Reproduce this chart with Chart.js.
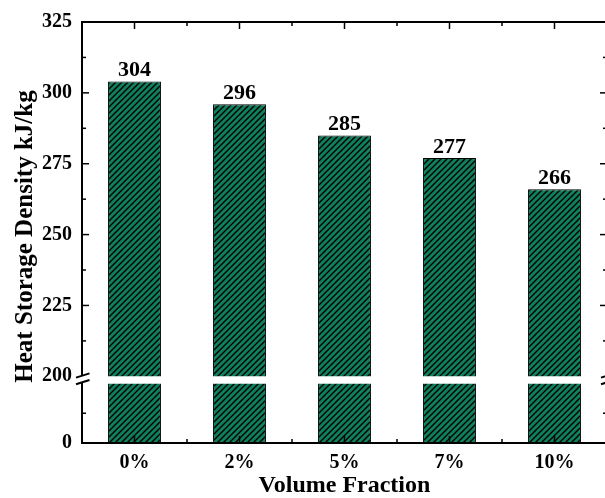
<!DOCTYPE html>
<html>
<head>
<meta charset="utf-8">
<script src="https://cdn.jsdelivr.net/npm/chart.js@4/dist/chart.umd.min.js"></script>
<style>
  html, body { margin: 0; padding: 0; background: #fff; overflow: hidden; }
  canvas { display: block; }
</style>
</head>
<body>
<canvas id="chart" width="607" height="498"></canvas>
<script>
// Heat storage density for each nanoparticle volume fraction
const categories = ['0%', '2%', '5%', '7%', '10%'];
const storageDensity = [304, 296, 285, 277, 266];
const upperTicks = [200, 225, 250, 275, 300, 325];
const lowerTicks = [0];
const lowerMinorTicks = [100];
const axisBreak = 200;

const SERIF = '"Liberation Serif", "Times New Roman", serif';
const GREEN = '#0f7f5c';

// Diagonal hatch fill for the bars
function hatchPattern() {
  const s = 6;
  const c = document.createElement('canvas');
  c.width = s; c.height = s;
  const g = c.getContext('2d');
  g.fillStyle = GREEN;
  g.fillRect(0, 0, s, s);
  g.strokeStyle = '#000';
  g.lineWidth = 1.4;
  g.beginPath();
  g.moveTo(0, s); g.lineTo(s, 0);
  g.moveTo(-1, 1); g.lineTo(1, -1);
  g.moveTo(s - 1, s + 1); g.lineTo(s + 1, s - 1);
  g.stroke();
  return g.createPattern(c, 'repeat');
}

// Frame, inward ticks, axis break marks, value labels and axis titles
const decorations = {
  id: 'decorations',
  afterDatasetsDraw(chart) {
    const ctx = chart.ctx;
    const { left, right, top, bottom } = chart.chartArea;
    const xs = chart.scales.x, yH = chart.scales.yHigh, yL = chart.scales.yLow;
    const gapTop = yH.getPixelForValue(axisBreak);
    const gapBot = yL.getPixelForValue(axisBreak);
    const c1 = gapTop - 0.5, c2 = gapBot - 1;

    ctx.save();
    ctx.strokeStyle = '#000';
    ctx.lineCap = 'butt';

    const seg = (x1, y1, x2, y2) => { ctx.beginPath(); ctx.moveTo(x1, y1); ctx.lineTo(x2, y2); ctx.stroke(); };

    // axis lines
    ctx.lineWidth = 2;
    seg(left - 1, top, right + 1, top);
    seg(left - 1, bottom, right + 1, bottom);
    [left, right].forEach(x0 => {
      seg(x0, top, x0, c1);
      seg(x0, c2, x0, bottom + 1);
      // break marks
      seg(x0 - 6, c1 + 1.8, x0 + 7.5, c1 - 2.4);
      seg(x0 - 6, c2 + 1.8, x0 + 7.5, c2 - 2.4);
    });

    // tick marks
    ctx.lineWidth = 1.5;
    const MAJ = 7, MIN = 4;
    const n = categories.length;
    for (let i = 0; i < n; i++) {
      const px = xs.getPixelForValue(i);
      seg(px, bottom, px, bottom - MAJ);
      seg(px, top, px, top + MAJ);
      if (i < n - 1) {
        const mx = (px + xs.getPixelForValue(i + 1)) / 2;
        seg(mx, bottom, mx, bottom - MIN);
        seg(mx, top, mx, top + MIN);
      }
    }
    const yTick = (py, len) => {
      seg(left, py, left + len, py);
      seg(right, py, right - len, py);
    };
    upperTicks.forEach((v, i) => {
      if (v !== axisBreak) yTick(yH.getPixelForValue(v), MAJ);
      if (i < upperTicks.length - 1) yTick(yH.getPixelForValue((v + upperTicks[i + 1]) / 2), MIN);
    });
    lowerMinorTicks.forEach(v => yTick(yL.getPixelForValue(v), MIN));

    // value labels above bars
    ctx.fillStyle = '#000';
    ctx.font = 'bold 22px ' + SERIF;
    ctx.textAlign = 'center';
    ctx.textBaseline = 'alphabetic';
    chart.getDatasetMeta(0).data.forEach((bar, i) => {
      ctx.fillText(String(storageDensity[i]), bar.x, bar.y - 5.5);
    });

    // axis titles
    ctx.font = 'bold 24px ' + SERIF;
    ctx.fillText('Volume Fraction', (left + right) / 2, 492);
    ctx.save();
    ctx.translate(31.5, (top + bottom) / 2 + 4);
    ctx.rotate(-Math.PI / 2);
    ctx.font = 'bold 25px ' + SERIF;
    ctx.fillText('Heat Storage Density kJ/kg', 0, 0);
    ctx.restore();

    ctx.restore();
  }
};

const pattern = hatchPattern();
const tickFont = { family: SERIF, size: 20, weight: 'bold' };

new Chart(document.getElementById('chart'), {
  type: 'bar',
  data: {
    labels: categories,
    datasets: [
      {
        label: 'upper',
        data: storageDensity,
        yAxisID: 'yHigh',
        grouped: false,
        backgroundColor: pattern,
        borderColor: '#000',
        borderWidth: 1,
        borderSkipped: 'start',
        barPercentage: 0.504,
        categoryPercentage: 1
      },
      {
        label: 'lower',
        data: storageDensity.map(v => Math.min(v, axisBreak)),
        yAxisID: 'yLow',
        grouped: false,
        backgroundColor: pattern,
        borderColor: '#000',
        borderWidth: 1,
        borderSkipped: 'end',
        barPercentage: 0.504,
        categoryPercentage: 1
      }
    ]
  },
  options: {
    responsive: false,
    animation: false,
    layout: { padding: { top: 20, right: 0, bottom: 0, left: 0 } },
    plugins: { legend: { display: false }, tooltip: { enabled: false } },
    scales: {
      x: {
        type: 'category',
        offset: true,
        grid: { display: false, drawTicks: false },
        border: { display: false },
        ticks: { font: tickFont, color: '#000', padding: 8, maxRotation: 0 },
        afterFit: s => { s.height = 55; }
      },
      // lower segment of the broken axis (0 up to the break)
      yLow: {
        type: 'linear',
        position: 'left',
        stack: 'y',
        stackWeight: 67,
        min: 0,
        max: 224,
        afterBuildTicks: s => { s.ticks = lowerTicks.map(v => ({ value: v })); },
        grid: { display: false, drawTicks: false },
        border: { display: false },
        ticks: { font: tickFont, color: '#000', padding: 10 },
        afterFit: s => { s.width = 82; }
      },
      // upper segment of the broken axis (break up to 325)
      yHigh: {
        type: 'linear',
        position: 'left',
        stack: 'y',
        stackWeight: 356,
        min: 200,
        max: 325,
        afterBuildTicks: s => { s.ticks = upperTicks.map(v => ({ value: v })); },
        grid: { display: false, drawTicks: false },
        border: { display: false },
        ticks: { font: tickFont, color: '#000', padding: 10 },
        afterFit: s => { s.width = 82; }
      }
    }
  },
  plugins: [decorations]
});
</script>
</body>
</html>
